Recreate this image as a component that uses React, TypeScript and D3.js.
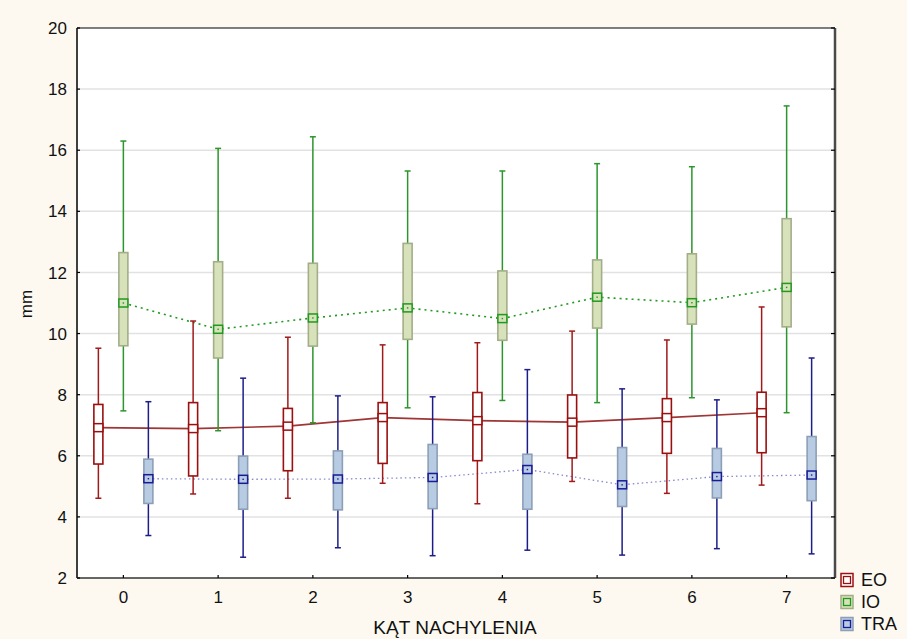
import React from 'react';
import * as d3 from 'd3';

// categories (tilt angle)
const categories = ['0', '1', '2', '3', '4', '5', '6', '7'];
const yTicks = [2, 4, 6, 8, 10, 12, 14, 16, 18, 20];

// EO
const eoWhiskLow = [4.61, 4.75, 4.61, 5.10, 4.43, 5.16, 4.77, 5.04];
const eoBoxLow = [5.73, 5.34, 5.51, 5.75, 5.84, 5.93, 6.08, 6.10];
const eoMean = [6.92, 6.89, 6.97, 7.25, 7.15, 7.10, 7.25, 7.41];
const eoBoxHigh = [7.68, 7.74, 7.55, 7.74, 8.07, 7.99, 7.87, 8.08];
const eoWhiskHigh = [9.52, 10.41, 9.88, 9.63, 9.70, 10.08, 9.79, 10.87];

// IO
const ioWhiskLow = [7.47, 6.82, 7.08, 7.57, 7.81, 7.74, 7.90, 7.41];
const ioBoxLow = [9.60, 9.20, 9.59, 9.81, 9.78, 10.18, 10.31, 10.22];
const ioMean = [11.0, 10.14, 10.51, 10.84, 10.49, 11.19, 11.01, 11.51];
const ioBoxHigh = [12.65, 12.35, 12.30, 12.95, 12.05, 12.41, 12.61, 13.76];
const ioWhiskHigh = [16.30, 16.06, 16.44, 15.32, 15.32, 15.56, 15.46, 17.45];

// TRA
const traWhiskLow = [3.39, 2.68, 2.99, 2.73, 2.91, 2.75, 2.96, 2.79];
const traBoxLow = [4.44, 4.25, 4.23, 4.27, 4.25, 4.34, 4.62, 4.53];
const traMean = [5.25, 5.23, 5.24, 5.29, 5.55, 5.05, 5.32, 5.37];
const traBoxHigh = [5.89, 5.99, 6.16, 6.37, 6.05, 6.27, 6.24, 6.63];
const traWhiskHigh = [7.77, 8.54, 7.96, 7.93, 8.82, 8.19, 7.83, 9.20];

const series = [
  {
    name: 'EO', offset: -25,
    lo: eoWhiskLow, q1: eoBoxLow, mean: eoMean, q3: eoBoxHigh, hi: eoWhiskHigh,
    boxFill: '#ffffff', boxStroke: '#9c0f0f', whisk: '#a11a1a', markStroke: '#9c0f0f', markFill: '#ffffff',
    line: '#8e1212', dash: null as string | null, lineOpacity: 0.85, lineWidth: 1.6,
  },
  {
    name: 'IO', offset: 0,
    lo: ioWhiskLow, q1: ioBoxLow, mean: ioMean, q3: ioBoxHigh, hi: ioWhiskHigh,
    boxFill: '#d8e2ba', boxStroke: '#a3ad87', whisk: '#2d952d', markStroke: '#1e9a1e', markFill: '#d8e2ba',
    line: '#229a22', dash: '2,4', lineOpacity: 1, lineWidth: 1.6,
  },
  {
    name: 'TRA', offset: 25,
    lo: traWhiskLow, q1: traBoxLow, mean: traMean, q3: traBoxHigh, hi: traWhiskHigh,
    boxFill: '#b7cbe3', boxStroke: '#8d9fb6', whisk: '#1d1d8a', markStroke: '#1a1a96', markFill: '#b7cbe3',
    line: '#6a6ac0', dash: '1.5,3', lineOpacity: 0.8, lineWidth: 1.3,
  },
];

const W = 907;
const H = 639;
const left = 77;
const right = 835;
const top = 28;
const bottom = 578;
const font = 'Arial, "Liberation Sans", sans-serif';

export default function App() {
  const x = d3.scaleBand().domain(categories).range([left, right]).padding(0);
  const y = d3.scaleLinear().domain([2, 20]).range([bottom, top]);
  const cx = (c: string) => (x(c) as number) + x.bandwidth() / 2 - 1;
  const boxW = 9;
  const capW = 6;

  return (
    <svg width={W} height={H} style={{ position: 'absolute', left: 0, top: 0 }} fontFamily={font}>
      <rect x={0} y={0} width={W} height={H} fill="#fdf9f0" />
      <rect x={left} y={top} width={right - left} height={bottom - top} fill="#ffffff" />

      {/* grid */}
      {yTicks.slice(1, -1).map((t) => (
        <line key={t} x1={left} x2={right} y1={y(t)} y2={y(t)} stroke="#e2e2e2" strokeWidth={1.5} />
      ))}

      {/* mean lines */}
      {series.map((s) => {
        const line = d3.line<string>()
          .x((c) => cx(c) + s.offset)
          .y((c, i) => y(s.mean[i]));
        return (
          <path key={s.name} d={line(categories) as string} fill="none" stroke={s.line}
            strokeWidth={s.lineWidth} strokeDasharray={s.dash ?? undefined} opacity={s.lineOpacity} />
        );
      })}

      {/* boxes */}
      {series.map((s) => (
        <g key={s.name}>
          {categories.map((c, i) => {
            const xc = cx(c) + s.offset;
            return (
              <g key={c}>
                <line x1={xc} x2={xc} y1={y(s.hi[i])} y2={y(s.q3[i])} stroke={s.whisk} strokeWidth={1.5} />
                <line x1={xc} x2={xc} y1={y(s.q1[i])} y2={y(s.lo[i])} stroke={s.whisk} strokeWidth={1.5} />
                <line x1={xc - capW / 2} x2={xc + capW / 2} y1={y(s.hi[i])} y2={y(s.hi[i])} stroke={s.whisk} strokeWidth={1.5} />
                <line x1={xc - capW / 2} x2={xc + capW / 2} y1={y(s.lo[i])} y2={y(s.lo[i])} stroke={s.whisk} strokeWidth={1.5} />
                <rect x={xc - boxW / 2} y={y(s.q3[i])} width={boxW} height={y(s.q1[i]) - y(s.q3[i])}
                  fill={s.boxFill} stroke={s.boxStroke} strokeWidth={1.6} />
                <rect x={xc - boxW / 2} y={y(s.mean[i]) - 4} width={boxW} height={8}
                  fill={s.markFill} stroke={s.markStroke} strokeWidth={1.5} />
                {s.name !== 'EO' && (
                  <rect x={xc - 0.7} y={y(s.mean[i]) - 0.7} width={1.4} height={1.4} fill={s.markStroke} />
                )}
              </g>
            );
          })}
        </g>
      ))}

      {/* frame */}
      <line x1={left} x2={right} y1={top} y2={top} stroke="#000" strokeWidth={1.2} />
      <line x1={left} x2={left} y1={top} y2={bottom} stroke="#000" strokeWidth={1.5} />
      <line x1={left} x2={right} y1={bottom} y2={bottom} stroke="#333" strokeWidth={1.5} />
      <line x1={right} x2={right} y1={top} y2={bottom} stroke="#4a4a4a" strokeWidth={2.5} />

      {/* y ticks */}
      {yTicks.map((t) => (
        <g key={t}>
          <line x1={left} x2={left + 3} y1={y(t)} y2={y(t)} stroke="#000" strokeWidth={1.2} />
          <line x1={right - 4} x2={right} y1={y(t)} y2={y(t)} stroke="#000" strokeWidth={1.2} />
          <text x={67} y={y(t)} dy="0.36em" textAnchor="end" fontSize={17} fill="#111">{t}</text>
        </g>
      ))}

      {/* x ticks */}
      {categories.map((c) => (
        <g key={c}>
          <line x1={cx(c)} x2={cx(c)} y1={bottom - 3} y2={bottom} stroke="#000" strokeWidth={1.2} />
          <text x={cx(c)} y={603} textAnchor="middle" fontSize={17} fill="#111">{c}</text>
        </g>
      ))}

      <text x={455} y={634} textAnchor="middle" fontSize={19} fill="#111">KĄT NACHYLENIA</text>
      <text transform={`translate(32,304) rotate(-90)`} textAnchor="middle" fontSize={17} fill="#111">mm</text>

      {/* legend */}
      {series.map((s, i) => {
        const ly = 580 + i * 22;
        return (
          <g key={s.name}>
            <rect x={841} y={ly - 6.5} width={12} height={13} fill={s.boxFill} stroke={s.boxStroke} strokeWidth={1.5} />
            <rect x={843.5} y={ly - 3.5} width={7} height={7} fill={s.markFill} stroke={s.markStroke} strokeWidth={1.3} />
            <text x={861} y={ly} dy="0.36em" fontSize={18} fill="#111">{s.name}</text>
          </g>
        );
      })}
    </svg>
  );
}
